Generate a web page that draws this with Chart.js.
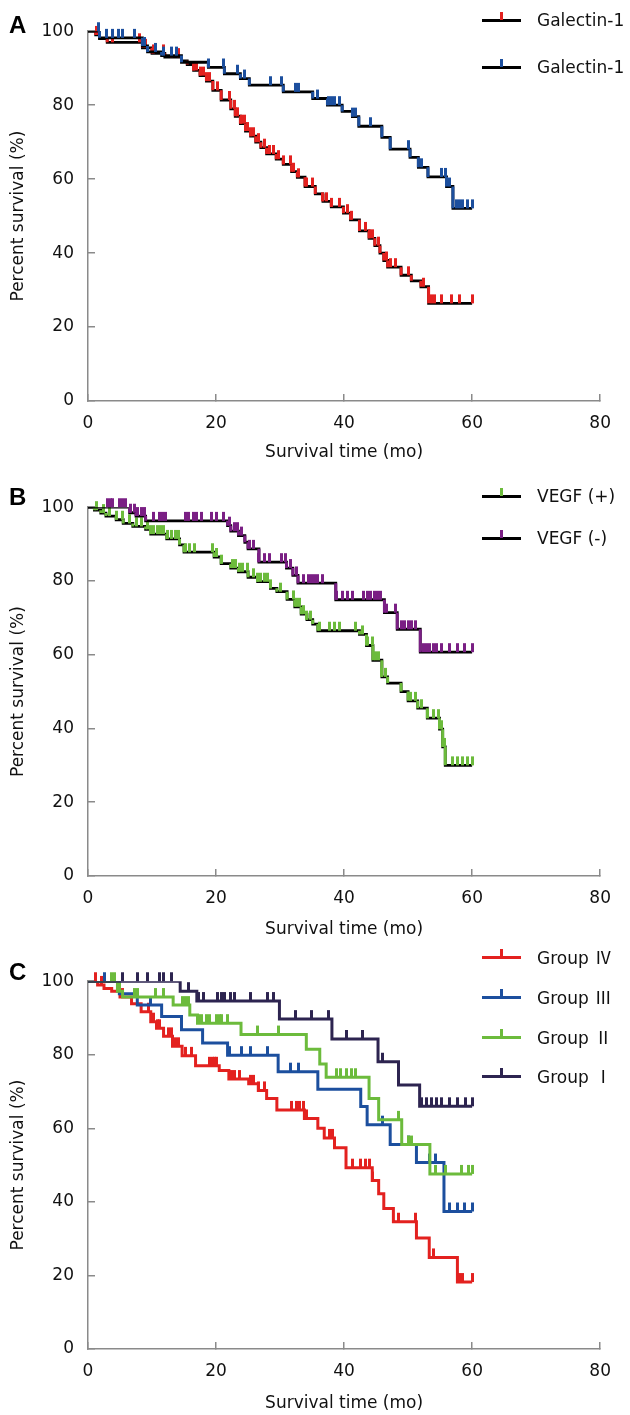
<!DOCTYPE html>
<html>
<head>
<meta charset="utf-8">
<script src="https://cdn.jsdelivr.net/npm/chart.js@4.4.1/dist/chart.umd.min.js"></script>
<style>
  body { margin:0; background:#fff; width:630px; height:1415px; position:relative; overflow:hidden; font-family:"DejaVu Sans", sans-serif; }
  canvas { position:absolute; left:0; }
  .letter { position:absolute; left:9px; font:bold 24px "Liberation Sans", Arial, sans-serif; line-height:24px; }
  .key { position:absolute; left:482px; width:148px; height:20px; }
  .key .bar { position:absolute; left:0; top:9px; width:39px; height:3px; }
  .key .tick { position:absolute; left:18px; top:2px; width:3px; height:8px; }
  .key span { position:absolute; left:55px; top:0; font-size:17px; line-height:20px; color:#111; white-space:nowrap; }
  .key span b { font-weight:normal; font-family:"Noto Sans CJK JP", serif; margin-left:6px; }
</style>
</head>
<body>
<canvas id="chartA" width="630" height="470" style="top:0px"></canvas>
<canvas id="chartB" width="630" height="470" style="top:476px"></canvas>
<canvas id="chartC" width="630" height="465" style="top:950px"></canvas>
<div class="letter" style="top:13px">A</div>
<div class="letter" style="top:485px">B</div>
<div class="letter" style="top:960px">C</div>
<div id="legends"></div>
<script>
// axis ticks
const monthTicks = [0, 20, 40, 60, 80];
const percentTicks = [0, 20, 40, 60, 80, 100];

// A: Galectin-1 (red curve, high expression)
const galRedTime = [0, 1.2, 1.8, 3, 8.5, 10, 12, 14.6, 15.5, 16.5, 17.5, 18.5, 19.5, 20.8, 22.3, 23, 23.8, 24.6, 25.4, 26.2, 27, 27.9, 29.4, 30.5, 31.8, 32.7, 33.9, 35.5, 36.7, 38, 39.9, 41, 42.4, 43.9, 44.8, 45.6, 46.2, 46.8, 48.9, 50.5, 52, 53.2, 60];
const galRedSurv = [100, 99, 98, 97, 95.5, 94, 93, 92, 91, 89.4, 88, 86.5, 84, 81.4, 79, 77, 75, 73, 71.6, 70, 68.5, 66.8, 65.4, 64, 62, 60.5, 58, 56, 54, 52.5, 50.8, 49, 46, 44, 42, 40, 38, 36.2, 34, 32.5, 30.9, 26.4, 26.4];
const galRedCensor = [1.3, 3.9, 8, 9, 10.3, 11.8, 13.1, 14.2, 16.5, 17, 17.5, 18, 18.5, 19, 20.3, 22.1, 22.9, 23.4, 23.9, 24.4, 24.9, 25.4, 25.9, 26.7, 27.5, 28.3, 29, 29.8, 30.6, 31.6, 32.1, 32.9, 34.2, 35, 36.7, 37.2, 38, 39.3, 40.6, 41.1, 43.4, 43.9, 44.4, 45.4, 46.7, 47.2, 48, 50.1, 52.4, 53.6, 54.1, 55.2, 56.7, 58, 60];

// A: Galectin-1 (blue curve, low expression)
const galBlueTime = [0, 1.8, 8.5, 9.3, 11.5, 14.6, 18.8, 21.3, 23.8, 25.2, 30.5, 35.1, 37.4, 39.7, 41.3, 42.3, 45.9, 47.2, 50.3, 51.6, 53.1, 56, 57, 60];
const galBlueSurv = [100, 98.2, 96, 94.4, 93.4, 91.6, 90.2, 88.5, 87.2, 85.4, 83.6, 81.8, 80, 78.3, 76.9, 74.3, 71.3, 68.1, 65.9, 63.2, 60.6, 58, 52.1, 52.1];
const galBlueCensor = [1.6, 2.9, 3.9, 4.7, 5.4, 7.2, 8.8, 10.6, 11.8, 13.1, 13.9, 18.8, 21.1, 23.4, 24.4, 28.5, 30.3, 32.4, 32.9, 35.9, 37.5, 38, 38.5, 39.3, 41.3, 41.8, 44.2, 50.1, 52.1, 55.2, 55.9, 56.5, 57.5, 58, 58.5, 59.3, 60];

// B: VEGF (+)
const vegfPosTime = [0, 1, 2, 2.8, 4.4, 5.5, 7, 9, 9.8, 12.3, 14.3, 15, 19.7, 20.8, 22.3, 23.5, 25, 26.5, 28.5, 29.5, 31.1, 32.3, 33.3, 34.2, 35.1, 35.9, 42.4, 43.5, 44.5, 45.9, 46.8, 48.9, 50, 51.5, 53, 54.9, 55.4, 55.8, 60];
const vegfPosSurv = [100, 99.2, 98.4, 97.6, 96.6, 95.6, 94.8, 94, 92.7, 91.4, 89.8, 87.8, 86.5, 84.7, 83.5, 82.5, 81, 79.8, 78, 77.1, 75, 73, 71, 69.5, 68.3, 66.5, 65.5, 62.5, 58.5, 54, 52.3, 50, 47.5, 45.5, 42.8, 39.8, 35, 30, 30];
const vegfPosCensor = [1.3, 2.4, 3.4, 4.4, 5.4, 6.5, 7.5, 8.3, 9.3, 9.8, 10.3, 10.8, 11.3, 11.8, 12.4, 13.1, 13.6, 14.2, 15.2, 15.9, 16.7, 19.5, 20.1, 20.8, 22.6, 23.1, 23.6, 24.2, 24.9, 25.9, 26.5, 27, 27.5, 28, 28.5, 30.1, 32.1, 32.6, 33.1, 33.6, 34.2, 34.7, 36.2, 37.7, 38.5, 39.3, 41.8, 42.9, 43.6, 44.4, 44.9, 45.4, 45.9, 46.5, 50.3, 51.1, 52.1, 53.1, 53.9, 54.7, 55.2, 55.7, 56.9, 57.7, 58.5, 59.3, 60];

// B: VEGF (-)
const vegfNegTime = [0, 6.5, 7.5, 9, 21.8, 22.3, 23.5, 24.5, 25, 26.7, 31, 32, 32.8, 38.7, 46.3, 48.3, 51.9, 60];
const vegfNegSurv = [100, 98.5, 97.6, 96.3, 95, 93.5, 92.3, 90.5, 88.7, 85.1, 83.5, 81.5, 79.4, 74.9, 71.4, 66.9, 60.7, 60.7];
const vegfNegCensor = [3.1, 3.5, 3.9, 4.9, 5.4, 5.9, 6.7, 7.2, 7.7, 8.3, 8.8, 10.3, 11.1, 11.6, 12.1, 15.2, 15.7, 16.5, 17, 17.7, 19.3, 20.1, 21.1, 22.1, 22.9, 23.4, 23.9, 25.2, 25.9, 26.7, 27.5, 28.3, 30.3, 30.8, 31.6, 32.6, 33.6, 34.4, 34.9, 35.4, 35.9, 36.7, 38.8, 39.8, 40.6, 41.3, 43.1, 43.6, 44.2, 44.7, 45.2, 45.7, 46.7, 48, 49, 49.5, 50, 50.6, 51.1, 52.4, 52.9, 53.4, 53.9, 54.4, 55.2, 56.5, 57.7, 58.8, 60];

// C: groups
const g4Time = [0, 1.5, 2.5, 3.7, 5, 6.8, 8.3, 9.8, 10.7, 11.8, 13.2, 14.7, 16.8, 20.5, 22, 25.1, 26.6, 27.9, 29.5, 33.8, 35.9, 36.9, 38.5, 40.3, 44.4, 45.4, 46.2, 47.7, 51.3, 53.3, 57.7, 60];
const g4Surv = [100, 99, 98, 97.3, 95.7, 93.9, 91.7, 89, 87.2, 85, 82.3, 79.7, 77, 75.7, 73.4, 72.1, 70.3, 68.1, 65, 62.7, 60, 57.4, 54.7, 49.3, 45.8, 42.2, 38.2, 34.6, 30.2, 24.9, 18.2, 18.2];
const g4Censor = [1.1, 2.1, 5.4, 9.5, 10.3, 10.8, 11.1, 12.6, 13.1, 13.6, 14.2, 15.2, 16.2, 19, 19.5, 19.8, 20, 22.4, 22.9, 23.6, 25.4, 25.9, 26.7, 27.5, 31.8, 32.6, 33.1, 33.6, 34.2, 37.7, 38.2, 41.3, 42.6, 43.4, 43.9, 44.4, 48.5, 51.1, 53.9, 58, 58.5, 60];

const g3Time = [0, 4.9, 7.7, 11.5, 14.6, 17.9, 21.8, 29.7, 35.9, 42.6, 43.6, 47.2, 51.3, 55.6, 60];
const g3Surv = [100, 96.6, 93.5, 90.4, 86.8, 83.2, 79.9, 75.4, 70.6, 65.9, 61, 55.6, 50.7, 37.4, 37.4];
const g3Censor = [2.6, 4.9, 9.8, 22.1, 23.9, 25.4, 28, 31.6, 32.9, 46, 50.1, 53.4, 54.2, 56.5, 57.7, 58.8, 60];

const g2Time = [0, 4.6, 5.4, 13.3, 15.9, 17.1, 23.9, 34.1, 36.2, 37.2, 43.9, 45.4, 49, 53.4, 60];
const g2Surv = [100, 97.3, 95.7, 93.5, 90.8, 88.6, 85.5, 81.5, 77.5, 73.9, 68.1, 62.3, 55.6, 47.6, 47.6];
const g2Censor = [3.6, 4.2, 4.7, 4.9, 7.2, 7.7, 10.6, 11.8, 14.7, 15.2, 15.7, 17.2, 17.7, 18.5, 19, 20, 20.6, 20.8, 21.8, 26.5, 29.8, 38.8, 39.5, 40.3, 41.1, 41.8, 48.5, 50.1, 50.6, 54.2, 55.9, 58.3, 59.5, 60];

const g1Time = [0, 14.4, 17, 29.9, 38.1, 45.3, 48.5, 51.8, 60];
const g1Surv = [100, 97.3, 94.6, 89.7, 84.3, 78.1, 71.8, 66, 66];
const g1Censor = [5.4, 7.7, 9.3, 11.1, 11.8, 13.1, 15.7, 17.2, 18, 20.3, 20.8, 21.3, 22.3, 22.9, 25.4, 28, 29, 32.4, 34.9, 37.5, 40.3, 42.9, 46, 52.1, 52.9, 53.6, 54.4, 55.2, 56.5, 57.7, 59, 60];

const RED = '#e3211f', BLUE = '#1c4f9e', GREEN = '#6cbb3c', PURPLE = '#7a1f84', NAVY = '#2d2450';
const FONT = 'DejaVu Sans';

function survAt(times, surv, t) {
  let s = surv[0];
  for (let i = 0; i < times.length; i++) if (times[i] <= t) s = surv[i];
  return s;
}

// censor mark: short vertical stroke sitting on top of the curve
function tickMark(color) {
  const c = document.createElement('canvas');
  c.width = 3; c.height = 20;
  const g = c.getContext('2d');
  g.fillStyle = color;
  g.fillRect(0, 1, 3, 9);
  return c;
}

function stepSet(times, surv, color, w) {
  return { data: times.map((t, i) => ({ x: t, y: surv[i] })), stepped: true, borderColor: color,
           borderWidth: w, pointRadius: 0, fill: false };
}
function dropSet(times, surv, color) {
  const pts = [];
  for (let i = 1; i < times.length; i++) {
    if (surv[i] !== surv[i - 1]) pts.push({ x: times[i], y: surv[i - 1] }, { x: times[i], y: surv[i] }, { x: times[i], y: null });
  }
  return { data: pts, borderColor: color, borderWidth: 3, pointRadius: 0, spanGaps: false, fill: false };
}
function censorSet(times, surv, cens, color) {
  return { data: cens.map(t => ({ x: t, y: survAt(times, surv, t) })), showLine: false,
           pointStyle: tickMark(color), pointRadius: 4, clip: false };
}

function makePanel(id, canvasTop, canvasH, plotTop, plotBottom, titleY, datasets) {
  new Chart(document.getElementById(id), {
    type: 'line',
    data: { datasets: datasets },
    options: {
      responsive: false, animation: false, events: [],
      layout: { padding: { top: plotTop - canvasTop, right: 22, left: 0, bottom: 0 } },
      plugins: { legend: { display: false }, tooltip: { enabled: false } },
      scales: {
        x: {
          type: 'linear', min: 0, max: 80,
          afterBuildTicks: s => { s.ticks = monthTicks.map(v => ({ value: v })); },
          ticks: { padding: 19, color: '#111', font: { family: FONT, size: 17 } },
          grid: { drawOnChartArea: false, tickLength: -7, color: '#8a8a8a', lineWidth: 1.5 },
          border: { color: '#8a8a8a', width: 1.5 },
          title: { display: true, text: 'Survival time (mo)', color: '#111', font: { family: FONT, size: 17 },
                   padding: { top: 0, bottom: canvasTop + canvasH - titleY - 10.2 } },
          afterFit: s => { s.height = canvasTop + canvasH - plotBottom; }
        },
        y: {
          type: 'linear', min: 0, max: 100,
          afterBuildTicks: s => { s.ticks = percentTicks.map(v => ({ value: v })); },
          ticks: { padding: 21, color: '#111', font: { family: FONT, size: 17 } },
          grid: { drawOnChartArea: false, tickLength: -7, color: '#8a8a8a', lineWidth: 1.5 },
          border: { color: '#8a8a8a', width: 1.5 },
          title: { display: true, text: 'Percent survival (%)', color: '#111', font: { family: FONT, size: 17 },
                   padding: { top: 8, bottom: 0 } },
          afterFit: s => { s.width = 88; }
        }
      }
    }
  });
}

// first dataset is drawn on top
makePanel('chartA', 0, 470, 25, 401, 453, [
  censorSet(galBlueTime, galBlueSurv, galBlueCensor, BLUE),
  dropSet(galBlueTime, galBlueSurv, BLUE),
  stepSet(galBlueTime, galBlueSurv, '#000', 2.8),
  censorSet(galRedTime, galRedSurv, galRedCensor, RED),
  dropSet(galRedTime, galRedSurv, RED),
  stepSet(galRedTime, galRedSurv, '#000', 2.8)
]);

makePanel('chartB', 476, 470, 501, 876, 930, [
  censorSet(vegfNegTime, vegfNegSurv, vegfNegCensor, PURPLE),
  dropSet(vegfNegTime, vegfNegSurv, PURPLE),
  stepSet(vegfNegTime, vegfNegSurv, '#000', 2.8),
  censorSet(vegfPosTime, vegfPosSurv, vegfPosCensor, GREEN),
  dropSet(vegfPosTime, vegfPosSurv, GREEN),
  stepSet(vegfPosTime, vegfPosSurv, '#000', 2.8)
]);

makePanel('chartC', 950, 465, 975, 1349, 1404, [
  censorSet(g1Time, g1Surv, g1Censor, NAVY),
  stepSet(g1Time, g1Surv, NAVY, 3),
  censorSet(g2Time, g2Surv, g2Censor, GREEN),
  stepSet(g2Time, g2Surv, GREEN, 3),
  censorSet(g3Time, g3Surv, g3Censor, BLUE),
  stepSet(g3Time, g3Surv, BLUE, 3),
  censorSet(g4Time, g4Surv, g4Censor, RED),
  stepSet(g4Time, g4Surv, RED, 3)
]);

// legends (overlapping the plot area, as in the figure)
const legendItems = [
  { y: 20, text: 'Galectin-1', num: '', bar: '#000', tick: RED },
  { y: 67, text: 'Galectin-1', num: '', bar: '#000', tick: BLUE },
  { y: 496, text: 'VEGF (+)', num: '', bar: '#000', tick: GREEN },
  { y: 538, text: 'VEGF (-)', num: '', bar: '#000', tick: PURPLE },
  { y: 957, text: 'Group', num: 'Ⅳ', bar: RED, tick: RED },
  { y: 997, text: 'Group', num: 'Ⅲ', bar: BLUE, tick: BLUE },
  { y: 1037, text: 'Group', num: 'Ⅱ', bar: GREEN, tick: GREEN },
  { y: 1076, text: 'Group', num: 'Ⅰ', bar: NAVY, tick: NAVY }
];
const holder = document.getElementById('legends');
legendItems.forEach(it => {
  const d = document.createElement('div');
  d.className = 'key';
  d.style.top = (it.y - 10) + 'px';
  d.innerHTML = '<div class="bar" style="background:' + it.bar + '"></div><div class="tick" style="background:' + it.tick + '"></div><span></span>';
  const span = d.querySelector('span');
  span.textContent = it.text;
  if (it.num) {
    const b = document.createElement('b');
    b.textContent = it.num;
    span.appendChild(b);
  }
  holder.appendChild(d);
});
</script>
</body>
</html>
